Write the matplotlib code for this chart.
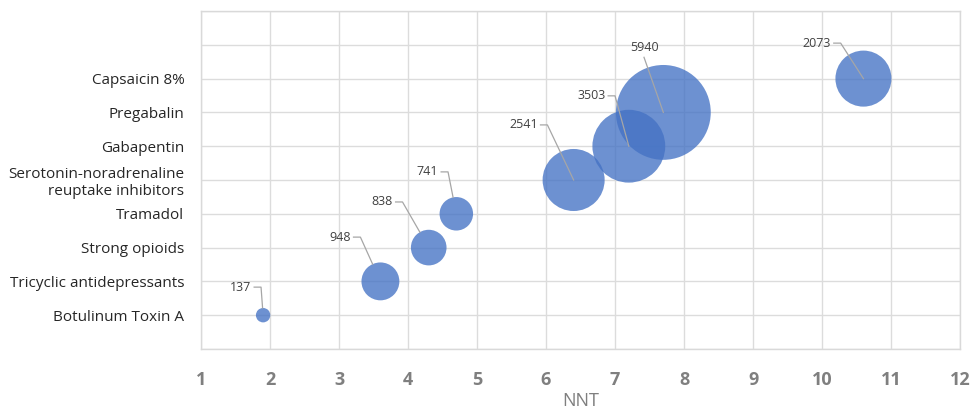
import numpy as np
import matplotlib.pyplot as plt

# data
treatments = ['Botulinum Toxin A', 'Tricyclic antidepressants', 'Strong opioids', 'Tramadol',
              'Serotonin-noradrenaline\nreuptake inhibitors', 'Gabapentin', 'Pregabalin', 'Capsaicin 8%']
nnt = [1.9, 3.6, 4.3, 4.7, 6.4, 7.2, 7.7, 10.6]
rank = [1, 2, 3, 4, 5, 6, 7, 8]
patients = [137, 948, 838, 741, 2541, 3503, 5940, 2073]

# label anchor positions (data coords, right edge of the text)
lab_x = [1.73, 3.17, 3.78, 4.44, 5.88, 6.86, 7.42, 10.13]
lab_y = [1.83, 3.31, 4.35, 5.24, 6.63, 7.49, 8.93, 9.05]

plt.rcParams['font.family'] = ['Open Sans', 'DejaVu Sans']

fig = plt.figure(figsize=(9.72, 4.11), dpi=100)
ax = fig.add_axes([0.2068, 0.1509, 0.9877 - 0.2068, 0.9732 - 0.1509])
ax.set_xlim(1, 12)
ax.set_ylim(0, 10)

ax.scatter(nnt, rank, s=np.array(patients) * 0.785, color='#4472C4', alpha=0.78,
           edgecolors='none', zorder=3)

# pixels per data unit, used to stop leader lines at the edge of small bubbles
ppx = 0.7809 * 972 / 11
ppy = 0.8223 * 411 / 10

for i, v in enumerate(patients):
    x, y = nnt[i], rank[i]
    tx, ty = lab_x[i], lab_y[i]
    if v == 5940:
        ax.text(tx, ty, str(v), ha='center', va='center', fontsize=9, color='#404040')
        ax.plot([tx, x], [ty - 0.3, y], color='#a6a6a6', lw=0.9, zorder=4)
        continue
    ax.text(tx, ty, str(v), ha='right', va='center', fontsize=9, color='#404040')
    sx, sy = tx + 0.14, ty
    ex, ey = x, y
    if v < 2000:
        dx, dy = (x - sx) * ppx, (y - sy) * ppy
        d = np.hypot(dx, dy)
        r = 1.23 * np.sqrt(v) / 2
        ex, ey = x - dx / d * r / ppx, y - dy / d * r / ppy
    ax.plot([tx + 0.04, sx, ex], [ty, sy, ey], color='#a6a6a6', lw=0.9, zorder=4)

ax.set_xticks(range(1, 13))
ax.set_yticks(range(0, 11))
ax.set_yticklabels([''] + treatments + ['', ''])
ax.tick_params(axis='y', length=0, pad=12, labelsize=11, labelcolor='#262626')
ax.tick_params(axis='x', length=0, pad=16, labelsize=13, labelcolor='#7f7f7f')
for t in ax.get_xticklabels():
    t.set_fontweight('bold')

ax.set_xlabel('NNT', fontsize=13, color='#7f7f7f', labelpad=2)
ax.grid(True, color='#dcdcdc', lw=1)
ax.set_axisbelow(True)
for s in ax.spines.values():
    s.set_color('#d9d9d9')
    s.set_linewidth(1)

fig.savefig('out.png', dpi=100)
